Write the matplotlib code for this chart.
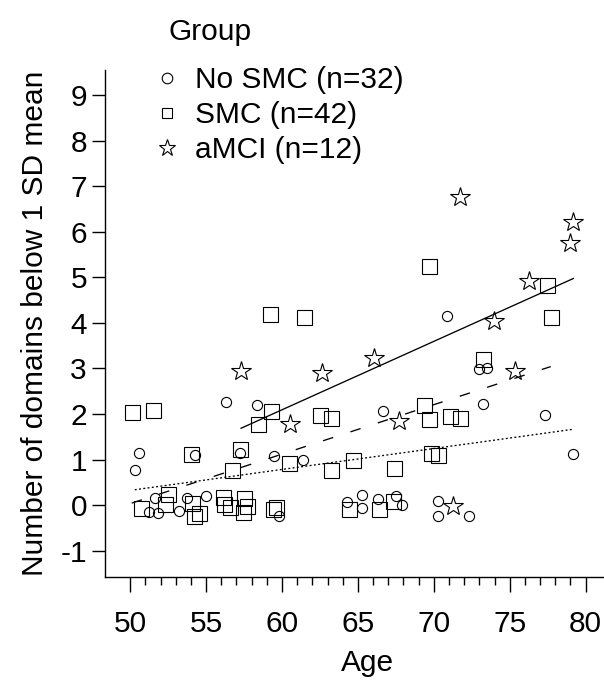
import numpy as np
import matplotlib
matplotlib.use("Agg")
import matplotlib.pyplot as plt
from matplotlib.lines import Line2D
from matplotlib.ticker import FixedLocator

plt.rcParams['font.family'] = ['Liberation Sans', 'DejaVu Sans']
plt.rcParams['lines.scale_dashes'] = False
plt.rcParams['axes.unicode_minus'] = False

# Age and number of cognitive domains below 1 SD of the mean, per group
age_no_smc = [50.3, 50.6, 51.24, 51.63, 51.8, 53.2, 53.76, 54.25, 55.0, 56.31,
              57.23, 58.37, 59.49, 59.8, 61.36, 64.26, 65.29, 65.29, 66.35, 66.68,
              67.51, 67.89, 70.3, 70.3, 70.85, 72.34, 73.0, 73.22, 73.52, 77.33,
              79.15]
dom_no_smc = [0.78, 1.15, -0.15, 0.16, -0.18, -0.13, 0.16, 1.11, 0.2, 2.27,
              1.15, 2.19, 1.07, -0.24, 0.98, 0.07, 0.22, -0.06, 0.14, 2.06,
              0.21, 0.0, 0.10, -0.23, 4.16, -0.23, 2.99, 2.22, 3.01, 1.97,
              1.13]

age_smc = [50.1, 51.52, 50.71, 52.51, 52.31, 54.0, 54.05, 54.22, 54.55, 56.09,
           56.2, 56.57, 56.69, 57.23, 57.52, 57.67, 57.41, 58.44, 59.25, 59.21,
           59.43, 59.58, 60.48, 61.47, 62.5, 63.23, 63.23, 64.7, 64.41, 66.41,
           67.33, 67.38, 69.36, 69.68, 69.68, 69.82, 70.3, 71.07, 71.73, 73.26,
           77.44, 77.70]
dom_smc = [2.04, 2.09, -0.07, 0.25, 0.03, 1.13, 0.05, -0.25, -0.18, 0.18,
           0.02, -0.04, 0.77, 1.24, 0.16, -0.02, -0.15, 1.78, 2.06, 4.20,
           -0.09, -0.04, 0.93, 4.12, 1.97, 1.92, 0.76, 0.98, -0.09, -0.09,
           0.10, 0.82, 2.19, 1.89, 5.24, 1.15, 1.11, 1.95, 1.92, 3.20,
           4.82, 4.13]

age_amci = [57.3, 60.53, 62.63, 66.06, 67.7, 71.28, 71.73, 73.99, 75.35, 76.29,
            78.97, 79.19]
dom_amci = [2.94, 1.77, 2.90, 3.22, 1.84, -0.02, 6.76, 4.04, 2.95, 4.91,
            5.75, 6.21]

group_labels = ["No SMC (n=32)", "SMC (n=42)", "aMCI (n=12)"]
x_ticks = [50, 55, 60, 65, 70, 75, 80]
y_ticks = [-1, 0, 1, 2, 3, 4, 5, 6, 7, 8, 9]

FS = 21.5
W, H = 604, 682
fig = plt.figure(figsize=(W / 100, H / 100), dpi=100)
ax = fig.add_axes([105 / W, 1 - 576.5 / H, (630 - 105) / W, (576.5 - 70) / H])
ax.set_xlim(48.34, 82.92)
ax.set_ylim(-1.567, 9.548)

styles = [
    dict(marker='o', ms=7.3, ls=(0, (1.4, 1.7))),
    dict(marker='s', ms=10.8, ls=(0, (7.7, 13.0))),
    dict(marker='*', ms=15.0, ls='-'),
]
series = [(age_no_smc, dom_no_smc), (age_smc, dom_smc), (age_amci, dom_amci)]

for (xs, ys), st in zip(series, styles):
    ax.plot(xs, ys, ls='none', marker=st['marker'], ms=st['ms'],
            mfc='none', mec='black', mew=0.8, zorder=3)

# least-squares fit per group, spanning that group's age range
for (xs, ys), st in zip(series, styles):
    xs = np.asarray(xs)
    k, b = np.polyfit(xs, np.asarray(ys), 1)
    xr = np.array([xs.min(), xs.max()])
    ax.plot(xr, k * xr + b, color='black', lw=0.95, ls=st['ls'], zorder=2)

for s in ('top', 'right'):
    ax.spines[s].set_visible(False)
for s in ('left', 'bottom'):
    ax.spines[s].set_linewidth(1.0)

ax.set_xticks(x_ticks)
ax.xaxis.set_minor_locator(FixedLocator(list(range(51, 80))))
ax.set_yticks(y_ticks)
ax.tick_params(axis='x', which='major', length=11, width=1.0, pad=13, labelsize=FS)
ax.tick_params(axis='x', which='minor', length=6, width=1.0)
ax.tick_params(axis='y', which='major', length=9.5, width=1.0, pad=3.5, labelsize=FS)

ax.set_xlabel("Age", fontsize=FS, labelpad=8)
ax.set_ylabel("Number of domains below 1 SD mean", fontsize=FS, labelpad=8)

# group key
def px(x, y):
    return x / W, 1 - y / H

fig.text(*px(168, 40), "Group", fontsize=FS, ha='left', va='baseline')
key_ms = [7.6, 7.9, 12.8]
for i, (lab, st, ms) in enumerate(zip(group_labels, styles, key_ms)):
    base = 88 + 35 * i
    fig.add_artist(Line2D([167 / W], [1 - (base - 10.5) / H], transform=fig.transFigure,
                          marker=st['marker'], ms=ms, mfc='none', mec='black',
                          mew=0.8, ls='none'))
    fig.text(*px(195, base), lab, fontsize=FS, ha='left', va='baseline')

fig.savefig("out.png", dpi=100)
